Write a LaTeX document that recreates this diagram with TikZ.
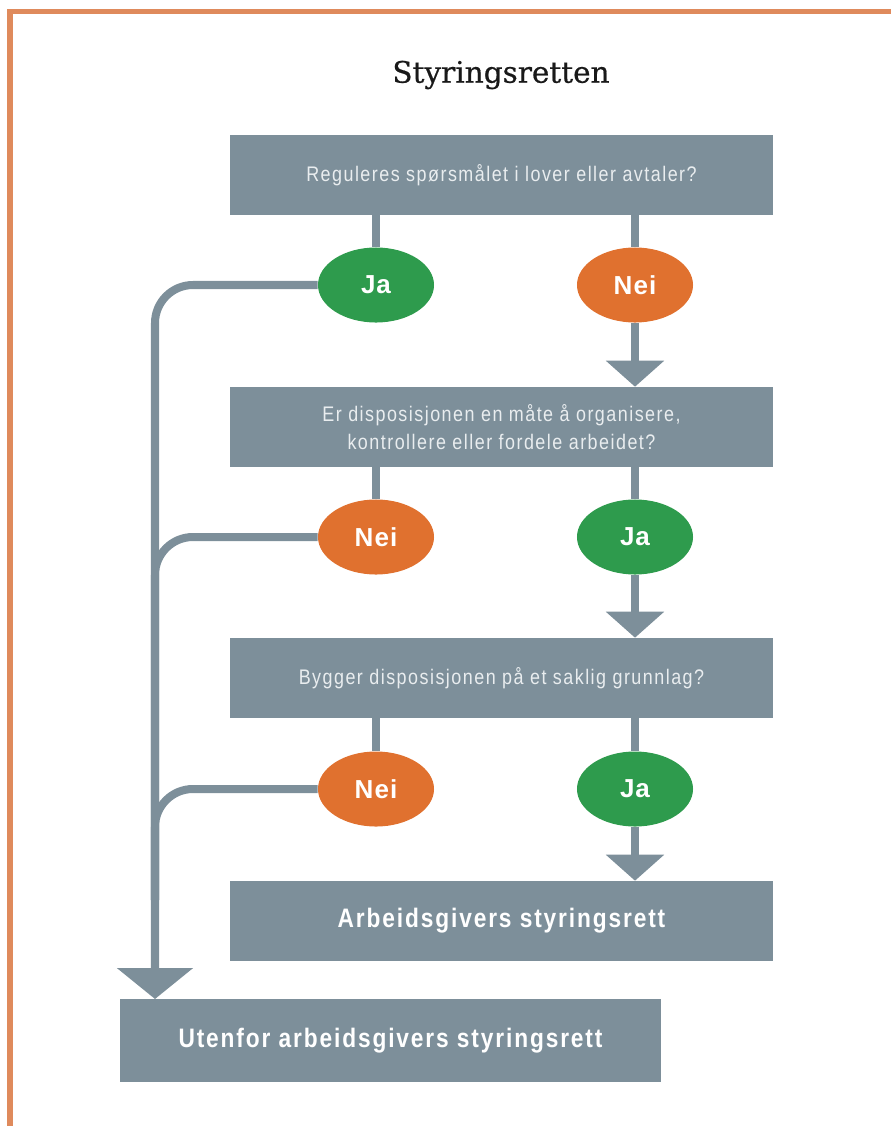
\documentclass[tikz,border=0pt]{standalone}
\usepackage{fontspec}
\setmainfont{Liberation Sans}
\newfontfamily\boxfont{Liberation Sans}[FakeStretch=0.85,LetterSpace=7]
\newfontfamily\answerfont{Liberation Sans}[LetterSpace=4]
\newfontfamily\titlefont{DejaVu Serif}[FakeBold=0.6]
\usetikzlibrary{arrows.meta,shapes.geometric}
\definecolor{slate}{HTML}{7D8F9A}
\definecolor{jagreen}{HTML}{2E9B4D}
\definecolor{neiorange}{HTML}{E0712F}
\definecolor{framecol}{HTML}{DF8A5C}
\definecolor{pale}{HTML}{E9EDEF}
\begin{document}
\begin{tikzpicture}[x=0.025cm,y=-0.025cm,
  box/.style={fill=slate,inner sep=0pt,minimum width=13.575cm,minimum height=2cm,
    align=center,text=pale,font=\boxfont\fontsize{15}{20}\selectfont},
  result/.style={box,text=white,font=\boxfont\bfseries\fontsize{19}{22}\selectfont},
  answer/.style={ellipse,inner sep=0pt,minimum width=2.9cm,minimum height=1.875cm,
    text=white,font=\answerfont\bfseries\fontsize{18.5}{20}\selectfont},
  ja/.style={answer,fill=jagreen},
  nei/.style={answer,fill=neiorange},
  conn/.style={draw=slate,line width=5.7pt},
  arr/.style={conn,-{Triangle[width=40.5pt,length=18.5pt]}},
  bigarr/.style={conn,-{Triangle[width=53pt,length=22pt]}}]
\useasboundingbox (0,0) rectangle (891,1126);

% frame
\draw[framecol,line width=3.6pt] (10,1126) -- (10,11.5) -- (891,11.5);

\node[text=black!90,font=\titlefont\fontsize{21}{24}\selectfont] (title) at (501,75) {Styringsretten};

% questions and answers
\node[box] (q1) at (501.5,175) {Reguleres spørsmålet i lover eller avtaler?};
\node[ja] (ja1) at (376,285) {Ja};
\node[nei] (nei1) at (635,285) {Nei};

\node[box] (q2) at (501.5,427) {Er disposisjonen en måte å organisere,\\kontrollere eller fordele arbeidet?};
\node[nei] (nei2) at (376,537) {Nei};
\node[ja] (ja2) at (635,537) {Ja};

\node[box] (q3) at (501.5,678) {Bygger disposisjonen på et saklig grunnlag?};
\node[nei] (nei3) at (376,789) {Nei};
\node[ja] (ja3) at (635,789) {Ja};

\node[result] (res) at (501.5,921) {Arbeidsgivers styringsrett};
\node[result,minimum width=13.525cm,minimum height=2.075cm] (out) at (390.5,1040.5) {Utenfor arbeidsgivers styringsrett};

\coordinate (drop) at (155,999);
\coordinate (merge) at (155,900);

% stems
\draw[conn] (q1.south -| ja1) -- (ja1.north);
\draw[conn] (q1.south -| nei1) -- (nei1.north);
\draw[arr] (nei1.south) -- (q2.north -| nei1);

\draw[conn] (q2.south -| nei2) -- (nei2.north);
\draw[conn] (q2.south -| ja2) -- (ja2.north);
\draw[arr] (ja2.south) -- (q3.north -| ja2);

\draw[conn] (q3.south -| nei3) -- (nei3.north);
\draw[conn] (q3.south -| ja3) -- (ja3.north);
\draw[arr] (ja3.south) -- (res.north -| ja3);

% left trunk
\draw[bigarr,rounded corners=0.95cm] (ja1.west) -| (drop);
\draw[conn,rounded corners=0.95cm] (nei2.west) -| (merge);
\draw[conn,rounded corners=0.95cm] (nei3.west) -| (merge);

\end{tikzpicture}
\end{document}
